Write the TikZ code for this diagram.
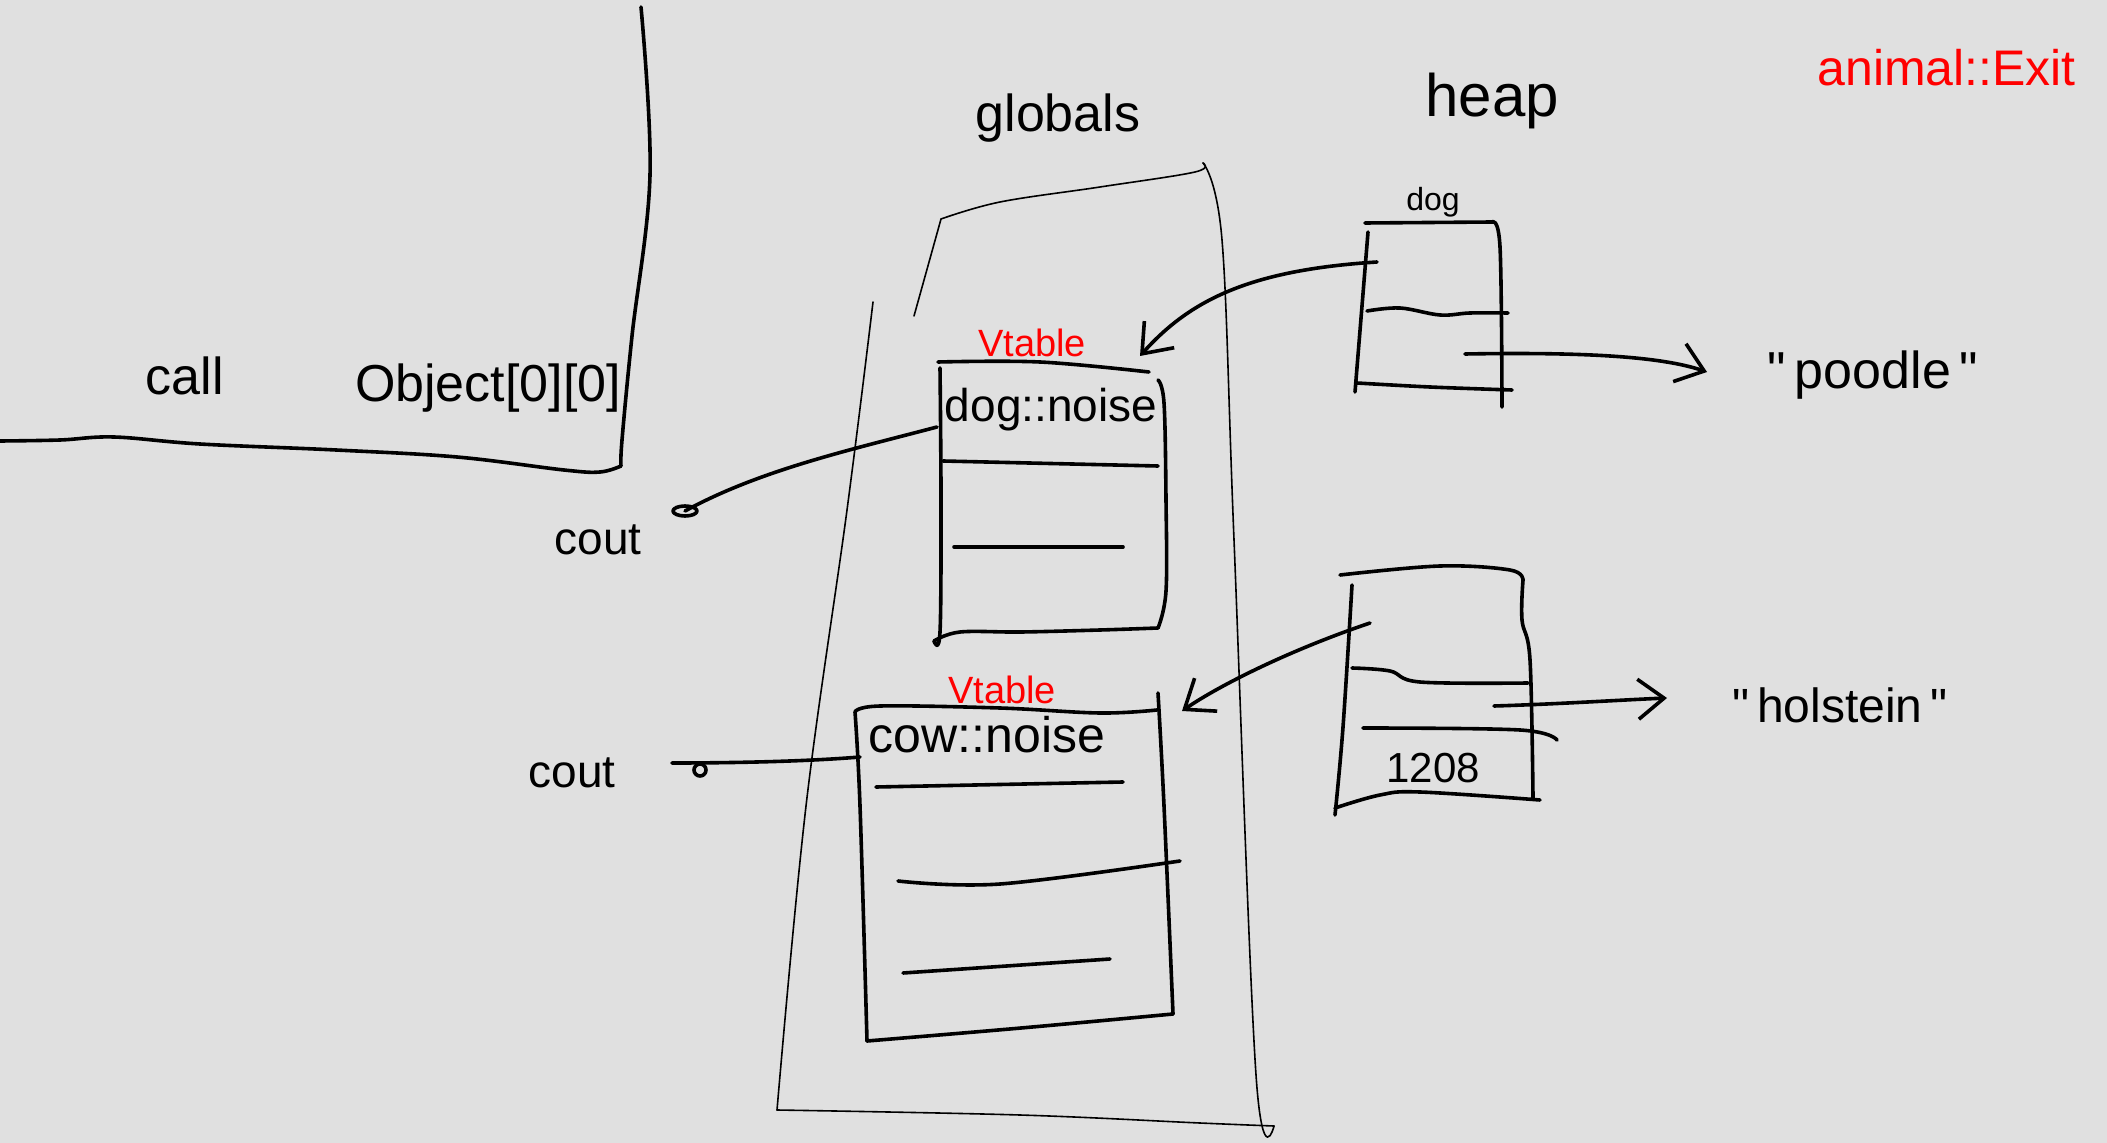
\documentclass[tikz,border=0pt]{standalone}
\usepackage{fontspec}
\setmainfont{Liberation Sans}[Ligatures=TeXOff]
\usetikzlibrary{arrows.meta}
\definecolor{bg}{RGB}{224,224,224}
\definecolor{redink}{RGB}{255,0,0}
\begin{document}
\begin{tikzpicture}[x=0.5pt,y=-0.5pt,
  pen/.style={line width=1.8pt,line cap=round,line join=round},
  thinpen/.style={line width=0.8pt,line cap=round,line join=round},
  lbl/.style={inner sep=0pt,font=\fontsize{26}{30}\selectfont},
  redlbl/.style={inner sep=0pt,text=redink,font=\fontsize{19}{22}\selectfont},
  barb/.style={-{Straight Barb[length=13pt,width=20pt,line width=1.8pt]}},
]
\fill[bg] (0,0) rectangle (2107,1143);
\useasboundingbox (0,0) rectangle (2107,1143);

% stack frame
\draw[pen] plot[smooth,tension=0.6] coordinates {(641,7) (650,175) (632,336) (622,440) (621,466)};
\draw[pen] plot[smooth,tension=0.6] coordinates {(621,466) (600,472) (564,470) (457,457) (336,450) (200,444) (114,437) (60,440) (0,441)};
\node[lbl] (call) at (185,376) {call};
\node[lbl] (obj) at (488,388) {Object[0][0]};

% titles
\node[lbl] (globals) at (1058,118) {globals};
\node[lbl,font=\fontsize{30}{34}\selectfont] (heap) at (1492,101) {heap};
\node[inner sep=0pt,anchor=west,text=redink,font=\fontsize{25}{29}\selectfont] (exit) at (1817,68) {animal::Exit};

% globals region
\draw[thinpen] (914,316) -- (941,219);
\draw[thinpen] plot[smooth,tension=0.6] coordinates {(941,219) (1000,202) (1100,187) (1195,172) (1203,163)};
\draw[thinpen] plot[smooth,tension=0.6] coordinates {(1203,163) (1222,240) (1234,540) (1256,1075) (1274,1126)};
\draw[thinpen] plot[smooth,tension=0.6] coordinates {(1274,1126) (1200,1123) (1020,1115) (777,1110)};
\draw[thinpen] plot[smooth,tension=0.6] coordinates {(777,1110) (806,806) (847,510) (873,302)};

% Vtable dog
\node[redlbl] (vt1) at (1032,343) {Vtable};
\draw[pen] plot[smooth,tension=0.6] coordinates {(938,362) (1040,362) (1149,372)};
\draw[pen] plot[smooth,tension=0.6] coordinates {(940,368) (941,500) (940,632) (934,641)};
\draw[pen] plot[smooth,tension=0.6] coordinates {(934,641) (960,632) (1021,632) (1100,630) (1158,628)};
\draw[pen] plot[smooth,tension=0.6] coordinates {(1158,380) (1164,403) (1166,500) (1166,591) (1158,628)};
\node[lbl,font=\fontsize{23}{27}\selectfont] (dognoise) at (1051,410) {dog::noise};
\draw[pen] (943,461) -- (1158,466);
\draw[pen] (954,547) -- (1123,547);

% Vtable cow
\node[redlbl] (vt2) at (1002,690) {Vtable};
\draw[pen] plot[smooth,tension=0.6] coordinates {(855,712) (880,706) (1000,708) (1100,713) (1157,710)};
\draw[pen] plot[smooth,tension=0.6] coordinates {(855,712) (860,806) (867,1041)};
\draw[pen] plot[smooth,tension=0.6] coordinates {(867,1041) (1021,1028) (1173,1014)};
\draw[pen] plot[smooth,tension=0.6] coordinates {(1158,693) (1164,806) (1173,1014)};
\node[lbl,font=\fontsize{25}{29}\selectfont] (cownoise) at (987,735) {cow::noise};
\draw[pen] (876,787) -- (1123,782);
\draw[pen] plot[smooth,tension=0.6] coordinates {(898,881) (1000,884) (1180,861)};
\draw[pen] (903,973) -- (1110,959);

% heap dog
\node[lbl,font=\fontsize{16}{19}\selectfont] (doglbl) at (1433,202) {dog};
\draw[pen] (1365,223) -- (1493,222);
\draw[pen] (1368,232) -- (1355,392);
\draw[pen] plot[smooth,tension=0.6] coordinates {(1492,222) (1500,247) (1502,407)};
\draw[pen] plot[smooth,tension=0.6] coordinates {(1367,311) (1400,308) (1440,315) (1470,313) (1508,313)};
\draw[pen] plot[smooth,tension=0.6] coordinates {(1357,383) (1430,387) (1512,390)};

% heap cow
\draw[pen] plot[smooth,tension=0.6] coordinates {(1340,575) (1440,566) (1510,570) (1523,580)};
\draw[pen] plot[smooth,tension=0.6] coordinates {(1523,580) (1522,620) (1530,660) (1533,798)};
\draw[pen] plot[smooth,tension=0.6] coordinates {(1352,585) (1343,727) (1335,815)};
\draw[pen] plot[smooth,tension=0.6] coordinates {(1335,808) (1380,795) (1420,792) (1540,800)};
\draw[pen] plot[smooth,tension=0.6] coordinates {(1352,668) (1390,671) (1420,682) (1528,683)};
\draw[pen] plot[smooth,tension=0.6] coordinates {(1363,728) (1520,730) (1557,740)};
\node[lbl,font=\fontsize{21}{25}\selectfont] (num) at (1433,768) {1208};

% strings and cout
\node[lbl] (poodle) at (1873,375) {"\,poodle\,"};
\node[lbl,font=\fontsize{24}{28}\selectfont] (holstein) at (1840,705) {"\,holstein\,"};
\node[lbl,font=\fontsize{23}{27}\selectfont] (cout1) at (598,540) {cout};
\node[lbl,font=\fontsize{23}{27}\selectfont] (cout2) at (572,773) {cout};

% connector end points
\coordinate (hdptr) at (1377,262);
\coordinate (vt1tip) at (1140,356);
\coordinate (hcptr) at (1370,623);
\coordinate (vt2tip) at (1182,711);
\coordinate (hdout) at (1465,354);
\coordinate (poodletip) at (1707,372);
\coordinate (hcout) at (1494,706);
\coordinate (holtip) at (1667,698);
\coordinate (dnout) at (937,427);
\coordinate (c1end) at (685,511);
\coordinate (cnout) at (860,757);
\coordinate (c2end) at (672,763);

% connectors
\draw[pen,barb] (hdptr) .. controls (1250,270) and (1190,300) .. (vt1tip);
\draw[pen,barb] (hcptr) .. controls (1290,650) and (1220,685) .. (vt2tip);
\draw[pen,barb] (hdout) .. controls (1580,352) and (1660,356) .. (poodletip);
\draw[pen,barb] (hcout) .. controls (1560,704) and (1620,700) .. (holtip);
\draw[pen] (dnout) .. controls (850,450) and (760,470) .. (c1end);
\draw[pen] (c1end) ellipse (12 and 5);
\draw[pen] (cnout) .. controls (800,762) and (720,763) .. (c2end);
\draw[pen] (700,770) circle (6);
\end{tikzpicture}
\end{document}
